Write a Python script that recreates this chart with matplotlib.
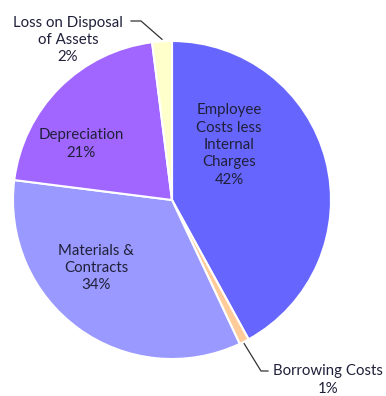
import numpy as np
import matplotlib.pyplot as plt

categories = ['Employee\nCosts less\nInternal\nCharges', 'Borrowing Costs',
              'Materials &\nContracts', 'Depreciation', 'Loss on Disposal\nof Assets']
shares = [42, 1, 34, 21, 2]
colors = ['#6666FF', '#FFCC99', '#9999FF', '#A066FF', '#FFFFCC']

W, H = 386, 396
fig = plt.figure(figsize=(W / 100, H / 100), dpi=100)
ax = fig.add_axes([0, 0, 1, 1])

cx, cy, r = 172, H - 200, 159
wedges, _ = ax.pie(shares, colors=colors, startangle=90, counterclock=False,
                   center=(cx, cy), radius=r, frame=True,
                   wedgeprops=dict(edgecolor='white', linewidth=1.5))
ax.set_xlim(0, W)
ax.set_ylim(0, H)
ax.set_aspect('equal')
ax.axis('off')

font = dict(family='Lato', fontsize=10.8, color='#20203a', ha='center', va='center',
            linespacing=1.3)

# labels inside the slices
inside = {0: (229, H - 145), 2: (96, H - 268), 3: (81, H - 144)}
for i, (x, y) in inside.items():
    ax.text(x, y, f'{categories[i]}\n{shares[i]}%', **font)

# labels outside with leader lines
def edge_point(i):
    w = wedges[i]
    ang = np.deg2rad((w.theta1 + w.theta2) / 2)
    return cx + r * np.cos(ang), cy + r * np.sin(ang)

x0, y0 = edge_point(4)
ax.plot([x0, 141, 131], [y0 + 2, H - 21, H - 21], color='#333333', lw=0.9)
ax.text(68, H - 40, f'{categories[4]}\n{shares[4]}%', **font)

x1, y1 = edge_point(1)
ax.plot([x1, 261, 268], [y1 - 2, H - 371, H - 371], color='#333333', lw=0.9)
ax.text(328, H - 380, f'{categories[1]}\n{shares[1]}%', **font)

fig.savefig('out.png', dpi=100)
